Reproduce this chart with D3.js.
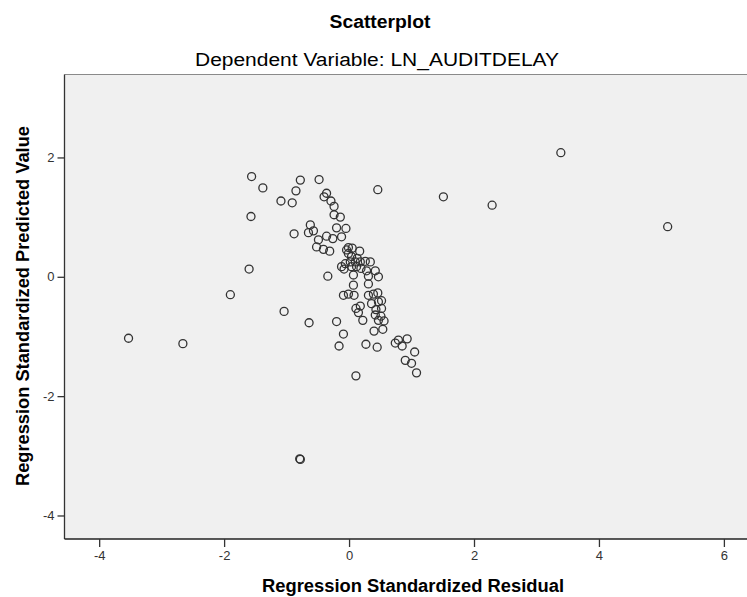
<!DOCTYPE html>
<html>
<head>
<meta charset="utf-8">
<script src="https://cdn.jsdelivr.net/npm/d3@7"></script>
<style>
  body { margin: 0; background: #fff; }
  text { font-family: "Liberation Sans", Arial, sans-serif; }
</style>
</head>
<body>
<div class="chart"></div>
<script>
(function () {
    // regression standardized residual (x) and predicted value (y)
    var residual = [
        -1.56, -1.38, -0.78, -0.48, -0.85, -1.09, -0.91, -0.36, -0.40, -0.29,
        -0.24, -0.24, -0.14, 0.46, 1.51, 3.39, 2.29, 5.10, -1.57, -0.62,
        -0.65, -0.88, -0.57, -0.20, -0.05, -0.49, -0.36, -0.26, -0.12, -0.52,
        -0.41, -0.31, -0.01, 0.05, 0.17, -0.01, 0.04, 0.02, 0.10, 0.18,
        0.26, 0.34, -0.12, -0.08, 0.04, 0.12, 0.19, 0.28, 0.42, 0.07,
        0.31, 0.47, -0.34, -1.60, 0.07, 0.31, -0.09, -0.01, 0.08, 0.31,
        0.39, 0.46, 0.36, 0.47, 0.52, 0.11, 0.18, 0.15, 0.43, 0.52,
        0.42, 0.51, 0.22, 0.47, 0.56, -0.64, -0.20, -0.09, 0.40, 0.54,
        -0.16, 0.27, 0.45, 0.74, 0.79, 0.93, 0.85, 1.05, 0.90, 1.00,
        1.08, 0.11, -0.78, -0.79, -1.90, -1.04, -3.53, -2.66, -0.04, -0.06,
        0.13
    ];
    var predicted = [
        1.68, 1.49, 1.62, 1.63, 1.44, 1.27, 1.24, 1.40, 1.34, 1.27,
        1.18, 1.04, 1.00, 1.46, 1.34, 2.08, 1.20, 0.84, 1.01, 0.87,
        0.74, 0.72, 0.77, 0.82, 0.81, 0.62, 0.68, 0.64, 0.67, 0.50,
        0.46, 0.43, 0.49, 0.48, 0.43, 0.39, 0.34, 0.25, 0.25, 0.25,
        0.26, 0.25, 0.17, 0.13, 0.17, 0.17, 0.14, 0.10, 0.10, 0.03,
        0.01, 0.00, 0.01, 0.13, -0.14, -0.12, -0.31, -0.29, -0.31, -0.31,
        -0.29, -0.27, -0.45, -0.42, -0.40, -0.53, -0.49, -0.60, -0.55, -0.53,
        -0.64, -0.66, -0.73, -0.73, -0.74, -0.77, -0.75, -0.96, -0.91, -0.88,
        -1.16, -1.13, -1.18, -1.11, -1.06, -1.04, -1.16, -1.26, -1.40, -1.45,
        -1.61, -1.66, -3.06, -3.05, -0.30, -0.58, -1.03, -1.12, 0.45, 0.22,
        0.31
    ];
    var xTicks = [-4, -2, 0, 2, 4, 6];
    var yTicks = [-4, -2, 0, 2];

    var points = residual.map(function (r, i) { return { x: r, y: predicted[i] }; });

    // plain hyphen minus like the original, not d3's unicode minus
    var plain = function (d) { return String(d); };

    var chart = {
        width: 747,
        height: 597,
        left: 64.5,
        top: 74.5,
        plotWidth: 697.5,
        plotHeight: 464.5,

        init: function () {
            var svg = d3.select('.chart').append('svg')
                .attr('width', this.width)
                .attr('height', this.height);

            var x = d3.scaleLinear().domain([-4.555, 6.61])
                .range([this.left, this.left + this.plotWidth]);
            var y = d3.scaleLinear().domain([-4.394, 3.39])
                .range([this.top + this.plotHeight, this.top]);

            // plot background and frame
            svg.append('rect')
                .attr('x', this.left).attr('y', this.top)
                .attr('width', this.plotWidth).attr('height', this.plotHeight)
                .attr('fill', '#f0f0f0');
            svg.append('line')
                .attr('x1', this.left).attr('y1', this.top)
                .attr('x2', this.left + this.plotWidth).attr('y2', this.top)
                .style('stroke', '#8a8a8a').style('stroke-width', 1.2);
            svg.append('line')
                .attr('x1', this.left).attr('y1', this.top)
                .attr('x2', this.left).attr('y2', this.top + this.plotHeight)
                .style('stroke', '#333').style('stroke-width', 1.3);
            svg.append('line')
                .attr('x1', this.left).attr('y1', this.top + this.plotHeight)
                .attr('x2', this.left + this.plotWidth).attr('y2', this.top + this.plotHeight)
                .style('stroke', '#222').style('stroke-width', 1.4);

            // axes
            var xAxis = svg.append('g')
                .attr('transform', 'translate(0,' + (this.top + this.plotHeight) + ')')
                .call(d3.axisBottom(x).tickValues(xTicks).tickFormat(plain).tickSize(8).tickPadding(4));
            var yAxis = svg.append('g')
                .attr('transform', 'translate(' + this.left + ',0)')
                .call(d3.axisLeft(y).tickValues(yTicks).tickFormat(plain).tickSize(7).tickPadding(3));

            [xAxis, yAxis].forEach(function (ax) {
                ax.select('.domain').remove();
                ax.selectAll('.tick line').style('stroke', '#333').style('stroke-width', 1.3);
                ax.selectAll('.tick text')
                    .style('font-family', '"Liberation Sans", Arial, sans-serif')
                    .style('font-size', '13px')
                    .style('fill', '#333');
            });

            // points
            svg.append('g').selectAll('circle')
                .data(points)
                .enter().append('circle')
                .attr('cx', function (d) { return x(d.x); })
                .attr('cy', function (d) { return y(d.y); })
                .attr('r', 4)
                .attr('fill', 'none')
                .style('stroke', '#333')
                .style('stroke-width', 1.3);

            // titles
            svg.append('text')
                .attr('x', 380).attr('y', 28)
                .attr('text-anchor', 'middle')
                .attr('textLength', 101).attr('lengthAdjust', 'spacingAndGlyphs')
                .style('font-size', '18px').style('font-weight', 'bold')
                .text('Scatterplot');
            svg.append('text')
                .attr('x', 377).attr('y', 66)
                .attr('text-anchor', 'middle')
                .attr('textLength', 364).attr('lengthAdjust', 'spacingAndGlyphs')
                .style('font-size', '18px')
                .text('Dependent Variable: LN_AUDITDELAY');

            svg.append('text')
                .attr('x', 413).attr('y', 592)
                .attr('text-anchor', 'middle')
                .attr('textLength', 302).attr('lengthAdjust', 'spacingAndGlyphs')
                .style('font-size', '18px').style('font-weight', 'bold')
                .text('Regression Standardized Residual');
            svg.append('text')
                .attr('transform', 'translate(29,306) rotate(-90)')
                .attr('text-anchor', 'middle')
                .attr('textLength', 360).attr('lengthAdjust', 'spacingAndGlyphs')
                .style('font-size', '18px').style('font-weight', 'bold')
                .text('Regression Standardized Predicted Value');
        }
    };

    chart.init();
}());
</script>
</body>
</html>
